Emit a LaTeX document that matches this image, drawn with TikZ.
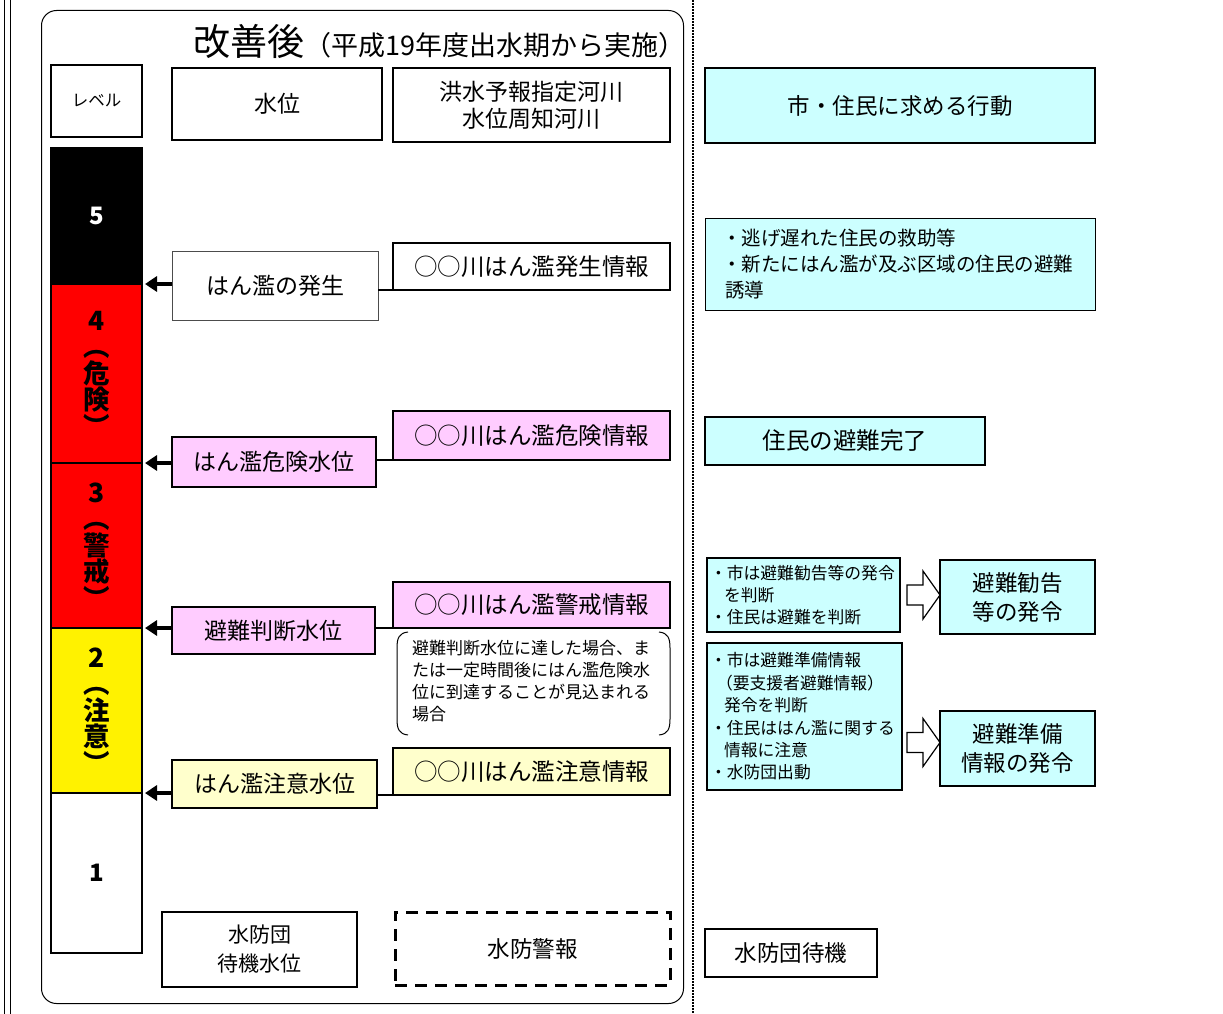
\documentclass[tikz,border=0pt]{standalone}
\usepackage{fontspec}
\setmainfont{Noto Sans CJK JP}
\usetikzlibrary{calc,arrows.meta}
\definecolor{pinkfill}{HTML}{FFCCFF}
\definecolor{yelfill}{HTML}{FFFFCC}
\definecolor{cyanfill}{HTML}{CCFFFF}
\newcommand\mybox[7]{\node[#2, minimum width={(#5)-(#3)}, minimum height={(#6)-(#4)}] (#1) at (#3,#4) {#7};}
\newcommand\fs[2]{\fontsize{#1}{#2}\selectfont}
\begin{document}
\begin{tikzpicture}[x=1pt,y=-1pt,
  box/.style={draw, line width=2.2pt, inner sep=0pt, outer sep=0pt, anchor=north west, align=center, font=\fs{23}{26}},
  thinbox/.style={box, line width=0.8pt},
  lvbox/.style={box, line width=1.6pt, font=\bfseries\fs{26.5}{26.5}},
  lvarrow/.style={line width=3.2pt, -{Triangle[length=12pt,width=15pt]}, shorten >=3pt},
  conn/.style={line width=1.8pt},
  blockarrow/.style={draw, line width=1.2pt, fill=white, line join=miter}
]
\useasboundingbox (0,0) rectangle (1223,1014);
% page frame lines
\draw[line width=0.9pt] (4,0) -- (4,1014);
\draw[line width=0.9pt] (10,0) -- (10,1014);
\draw[line width=1.8pt, dash pattern=on 1.6pt off 1.4pt] (693,0) -- (693,1014);
\node[draw, line width=1pt, rounded corners=15pt, minimum width=642, minimum height=993, anchor=north west, inner sep=0pt] (frame) at (41,10) {};

% title
\node[anchor=base west, inner sep=0pt] (title) at (193,56) {\fs{37}{40}改善後\fs{27}{30}（平成19年度出水期から実施）};

% headers
\mybox{hlevel}{box, font=\fs{16.5}{18}}{51}{65}{142}{137}{レベル}
\mybox{hwater}{box}{172}{68}{382}{140}{水位}
\mybox{hriver}{box, font=\fs{23}{27}}{393}{68}{670}{142}{洪水予報指定河川\\水位周知河川}
\mybox{hact}{box, fill=cyanfill, font=\fs{22.5}{26}}{705}{68}{1095}{143}{市・住民に求める行動}

% level column
\mybox{lv5}{lvbox, fill=black, text=white, font=\bfseries\fs{24}{26}}{51}{148}{142}{284}{5}
\mybox{lv4}{lvbox, fill=red}{51}{284}{142}{463}{4\\︵\\危\\険\\︶}
\mybox{lv3}{lvbox, fill=red}{51}{463}{142}{628}{3\\︵\\警\\戒\\︶}
\mybox{lv2}{lvbox, fill=yellow}{51}{628}{142}{793}{2\\︵\\注\\意\\︶}
\mybox{lv1}{lvbox, fill=white, font=\bfseries\fs{24}{26}}{51}{793}{142}{953}{1}

% water level boxes
\mybox{wl5}{thinbox, draw=black!70}{172}{251}{378}{320}{はん濫の発生}
\mybox{wl4}{box, fill=pinkfill}{172}{437}{376}{487}{はん濫危険水位}
\mybox{wl3}{box, fill=pinkfill}{172}{607}{375}{654}{避難判断水位}
\mybox{wl2}{box, fill=yelfill}{172}{760}{377}{808}{はん濫注意水位}
\mybox{wl1}{thinbox, line width=1.2pt, font=\fs{21}{29}}{162}{912}{357}{987}{水防団\\待機水位}

% info boxes
\mybox{in5}{box, line width=1.4pt, font=\fs{23.5}{26}}{393}{243}{670}{290}{○○川はん濫発生情報}
\mybox{in4}{box, fill=pinkfill, font=\fs{23.5}{26}}{393}{411}{670}{460}{○○川はん濫危険情報}
\mybox{in3}{box, fill=pinkfill, font=\fs{23.5}{26}}{393}{582}{670}{628}{○○川はん濫警戒情報}
\mybox{in2}{box, fill=yelfill, font=\fs{23.5}{26}}{393}{748}{670}{795}{○○川はん濫注意情報}
\mybox{in1}{box, line width=3pt, dash pattern=on 12pt off 8pt, font=\fs{22.5}{26}}{395}{912}{670}{985}{水防警報}

% arrows to level boundaries
\draw[lvarrow] (wl5.west |- lv4.north) -- (lv4.north east);
\draw[lvarrow] (wl4.west |- lv3.north) -- (lv3.north east);
\draw[lvarrow] (wl3.west |- lv2.north) -- (lv2.north east);
\draw[lvarrow] (wl2.west |- lv1.north) -- (lv1.north east);

% connectors water box -> info box
\draw[conn] (wl5.east |- in5.south) -- (in5.south west);
\draw[conn] (wl4.east |- in4.south) -- (in4.south west);
\draw[conn] (wl3.east |- in3.south) -- (in3.south west);
\draw[conn] (wl2.east |- in2.south) -- (in2.south west);

% bracketed note
\node[anchor=north west, align=left, inner sep=0pt, font=\fs{17}{22}] (note) at (412,640) {避難判断水位に達した場合、ま\\たは一定時間後にはん濫危険水\\位に到達することが見込まれる\\場合};
\coordinate (nl) at (397,632);
\coordinate (nr) at (670,632);
\draw[line width=1pt] ($(nl)+(11,0)$) .. controls ($(nl)+(2,1)$) and ($(nl)+(0,6)$) .. ($(nl)+(0,16)$) -- ($(nl)+(0,87)$) .. controls ($(nl)+(0,97)$) and ($(nl)+(2,102)$) .. ($(nl)+(11,103)$);
\draw[line width=1pt] ($(nr)+(-11,0)$) .. controls ($(nr)+(-2,1)$) and ($(nr)+(0,6)$) .. ($(nr)+(0,16)$) -- ($(nr)+(0,87)$) .. controls ($(nr)+(0,97)$) and ($(nr)+(-2,102)$) .. ($(nr)+(-11,103)$);

% right side actions
\mybox{a5}{thinbox, fill=cyanfill, align=left, text width=356, font=\fs{19.5}{26}}{705}{218}{1095}{310}{・逃げ遅れた住民の救助等\\・新たにはん濫が及ぶ区域の住民の避難\\\hspace*{3pt}誘導}
\mybox{a4}{box, fill=cyanfill, font=\fs{23.5}{26}}{705}{417}{985}{465}{住民の避難完了}
\mybox{a3}{box, line width=1.6pt, fill=cyanfill, align=left, text width=187, font=\fs{16.8}{22}}{707}{558}{900}{632}{・市は避難勧告等の発令\\\hspace*{14pt}を判断\\・住民は避難を判断}
\mybox{r3}{box, line width=2.4pt, fill=cyanfill, font=\fs{22.5}{29}}{940}{560}{1095}{634}{避難勧告\\等の発令}
\mybox{a2}{box, line width=1.6pt, fill=cyanfill, align=left, text width=189, font=\fs{16.8}{22.4}}{707}{643}{902}{790}{・市は避難準備情報\\\hspace*{6pt}（要支援者避難情報）\\\hspace*{14pt}発令を判断\\・住民ははん濫に関する\\\hspace*{14pt}情報に注意\\・水防団出動}
\mybox{r2}{box, line width=2.4pt, fill=cyanfill, font=\fs{22.5}{29}}{940}{711}{1095}{786}{避難準備\\情報の発令}
\mybox{a1}{box, font=\fs{22.5}{26}}{705}{929}{877}{977}{水防団待機}

% block arrows
\coordinate (b3) at ($(r3.west)+(0,-2)$);
\draw[blockarrow] ($(b3)+(-33,-10)$) -- ($(b3)+(-17,-10)$) -- ($(b3)+(-17,-24)$) -- (b3) -- ($(b3)+(-17,24)$) -- ($(b3)+(-17,10)$) -- ($(b3)+(-33,10)$) -- cycle;
\coordinate (b2) at ($(r2.west)+(0,-6)$);
\draw[blockarrow] ($(b2)+(-33,-10)$) -- ($(b2)+(-17,-10)$) -- ($(b2)+(-17,-24)$) -- (b2) -- ($(b2)+(-17,24)$) -- ($(b2)+(-17,10)$) -- ($(b2)+(-33,10)$) -- cycle;
\end{tikzpicture}
\end{document}
